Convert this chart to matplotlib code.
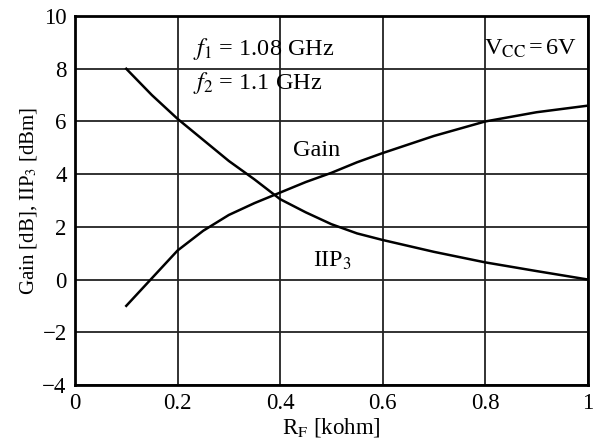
import matplotlib
matplotlib.use("Agg")
import matplotlib.pyplot as plt

plt.rcParams['font.family'] = 'Liberation Serif'
plt.rcParams['mathtext.fontset'] = 'stix'

# R_F values in kohm
rf = [0.1, 0.15, 0.2, 0.25, 0.3, 0.35, 0.4, 0.45, 0.5, 0.55, 0.6, 0.7, 0.8, 0.9, 1.0]
# gain in dB
gain = [-1.0, 0.05, 1.1, 1.85, 2.45, 2.9, 3.3, 3.7, 4.05, 4.45, 4.8, 5.45, 6.0, 6.35, 6.6]
# IIP3 in dBm
iip3 = [8.0, 7.0, 6.1, 5.3, 4.5, 3.8, 3.05, 2.55, 2.1, 1.75, 1.5, 1.05, 0.65, 0.32, 0.0]

xticks = [0, 0.2, 0.4, 0.6, 0.8, 1]
xticklabels = ['0', '0.2', '0.4', '0.6', '0.8', '1']
yticks = [-4, -2, 0, 2, 4, 6, 8, 10]
yticklabels = ['\u22124', '\u22122', '0', '2', '4', '6', '8', '10']

fig = plt.figure(figsize=(5.97, 4.47), dpi=100)
ax = fig.add_axes([0.1256, 0.139, 0.859, 0.825])

ax.plot(rf, gain, color='black', lw=1.8)
ax.plot(rf, iip3, color='black', lw=1.8)

ax.set_xlim(0, 1)
ax.set_ylim(-4, 10)
ax.set_xticks(xticks)
ax.set_xticklabels(xticklabels)
ax.set_yticks(yticks)
ax.set_yticklabels(yticklabels)
ax.tick_params(length=0, labelsize=16.5, pad=6)
ax.grid(True, color='#222222', lw=1.3)
for s in ax.spines.values():
    s.set_linewidth(2)

ax.set_xlabel(r'R$_\mathrm{F}$ [kohm]', fontsize=16.5, labelpad=1)
ax.set_ylabel(r'Gain [dB], IIP$_3$ [dBm]', fontsize=15, labelpad=2)

ax.text(0.23, 8.75, r'$f_1$ = 1.08 GHz', fontsize=17.5, va='center')
ax.text(0.23, 7.45, r'$f_2$ = 1.1 GHz', fontsize=17.5, va='center')
ax.text(0.978, 8.75, r'V$_\mathrm{CC}\,$=$\,$6V', fontsize=17.5, va='center', ha='right')
ax.text(0.425, 4.9, 'Gain', fontsize=17.5, va='center')
ax.text(0.464, 0.7, r'IIP$_3$', fontsize=17.5, va='center')

fig.savefig('out.png', dpi=100)
